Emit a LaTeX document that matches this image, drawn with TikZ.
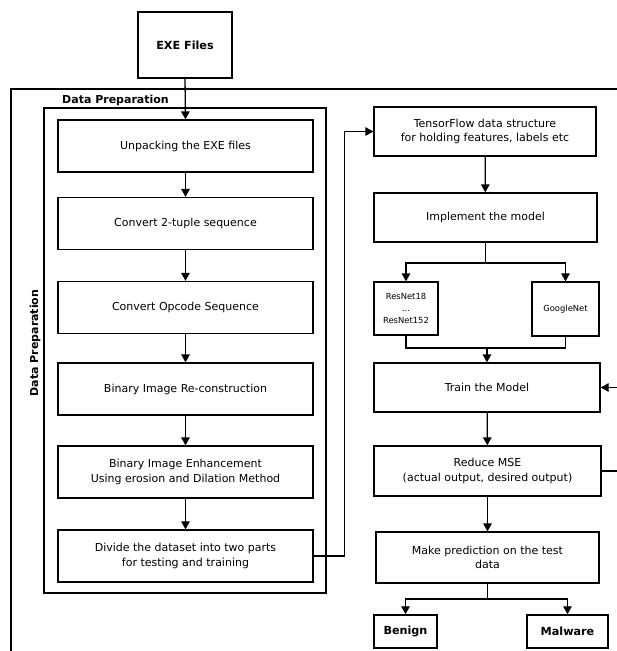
\documentclass[tikz,border=0pt]{standalone}
\usepackage{fontspec}
\setmainfont{DejaVu Sans}
\usetikzlibrary{arrows.meta}
\begin{document}
\begin{tikzpicture}[x=1pt,y=-1pt,
  box/.style={draw, line width=1.3pt, align=center, inner sep=0pt, font=\fontsize{11}{14.5}\selectfont},
  bbox/.style={draw, line width=1.5pt, align=center, inner sep=0pt, font=\fontsize{11.2}{13}\selectfont\bfseries},
  sbox/.style={draw, line width=1.3pt, align=center, inner sep=0pt, font=\fontsize{8.4}{12}\selectfont},
  frame/.style={draw, line width=1.3pt, inner sep=0pt},
  lbl/.style={font=\fontsize{11}{13}\selectfont\bfseries, inner sep=0pt},
  arr/.style={line width=1.3pt, -{Triangle[length=8pt,width=8.5pt]}},
  ln/.style={line width=1.3pt}]
\useasboundingbox (0,0) rectangle (617,651);
% outer frame
\coordinate (ofr) at (617,89);
\coordinate (otl) at (11,89);
\coordinate (obl) at (11,651);
\draw[ln] (ofr) -- (otl) -- (obl);
% inner frame
\node[frame, minimum width=282pt, minimum height=485pt] (dp) at (185,350.5) {};
\node[lbl, anchor=west] (dplbl) at (62,100) {Data Preparation};
\node[lbl, rotate=90] (dpv) at (35,343) {Data Preparation};
% top
\node[bbox, minimum width=94pt, minimum height=66pt] (exe) at (185,45) {EXE Files};
% left column
\node[box, minimum width=255pt, minimum height=52pt] (unpack) at (185.5,146) {Unpacking the EXE files};
\node[box, minimum width=255pt, minimum height=52pt] (tuple) at (185.5,223.5) {Convert 2-tuple sequence};
\node[box, minimum width=255pt, minimum height=52pt] (opcode) at (185.5,307.5) {Convert Opcode Sequence};
\node[box, minimum width=255pt, minimum height=52pt] (recon) at (185.5,389) {Binary Image Re-construction};
\node[box, minimum width=255pt, minimum height=52pt] (enh) at (185.5,472) {Binary Image Enhancement\\Using erosion and Dilation Method};
\node[box, minimum width=255pt, minimum height=52pt] (divide) at (185.5,556) {Divide the dataset into two parts\\for testing and training};
% right column
\node[box, minimum width=222pt, minimum height=49pt] (tf) at (485,131.5) {TensorFlow data structure\\for holding features, labels etc};
\node[box, minimum width=223pt, minimum height=49pt] (impl) at (485.5,217.5) {Implement the model};
\node[sbox, minimum width=64pt, minimum height=53pt] (resnet) at (406,308.5) {ResNet18\\...\\ResNet152};
\node[sbox, minimum width=67pt, minimum height=54pt] (google) at (565.5,309) {GoogleNet};
\node[box, minimum width=226pt, minimum height=49pt] (train) at (487,387.5) {Train the Model};
\node[box, minimum width=227pt, minimum height=50pt] (reduce) at (487.5,471) {Reduce MSE\\(actual output, desired output)};
\node[box, minimum width=223pt, minimum height=51pt] (pred) at (487.5,557.5) {Make prediction on the test\\data};
\node[bbox, minimum width=63pt, minimum height=33pt] (benign) at (405.5,631.5) {Benign};
\node[bbox, minimum width=81pt, minimum height=33pt] (malware) at (567.5,631.5) {Malware};
% connectors left
\draw[arr] (exe.south) -- (unpack.north);
\draw[arr] (unpack) -- (tuple);
\draw[arr] (tuple) -- (opcode);
\draw[arr] (opcode) -- (recon);
\draw[arr] (recon) -- (enh);
\draw[arr] (enh) -- (divide);
\draw[arr] (divide.east) -- ++(31,0) |- (tf.west);
% right
\draw[arr] (tf) -- (impl);
\coordinate (br1) at (485.5,263);
\draw[ln] (impl.south) -- (br1);
\draw[arr] (br1) -| (resnet.north);
\draw[arr] (br1) -| (google.north);
\coordinate (mg) at (487,348);
\draw[ln] (resnet.south) |- (mg);
\draw[ln] (google.south) |- (mg);
\draw[arr] (mg) -- (train.north);
\draw[arr] (train) -- (reduce);
\draw[arr] (reduce) -- (pred);
\coordinate (br2) at (487.5,599);
\draw[ln] (pred.south) -- (br2);
\draw[arr] (br2) -| (benign.north);
\draw[arr] (br2) -| (malware.north);
% feedback to the right edge
\coordinate (fbout) at (617,471);
\coordinate (fbin) at (617,387.5);
\draw[ln] (reduce.east) -- (fbout);
\draw[arr] (fbin) -- (train.east);
\end{tikzpicture}
\end{document}
